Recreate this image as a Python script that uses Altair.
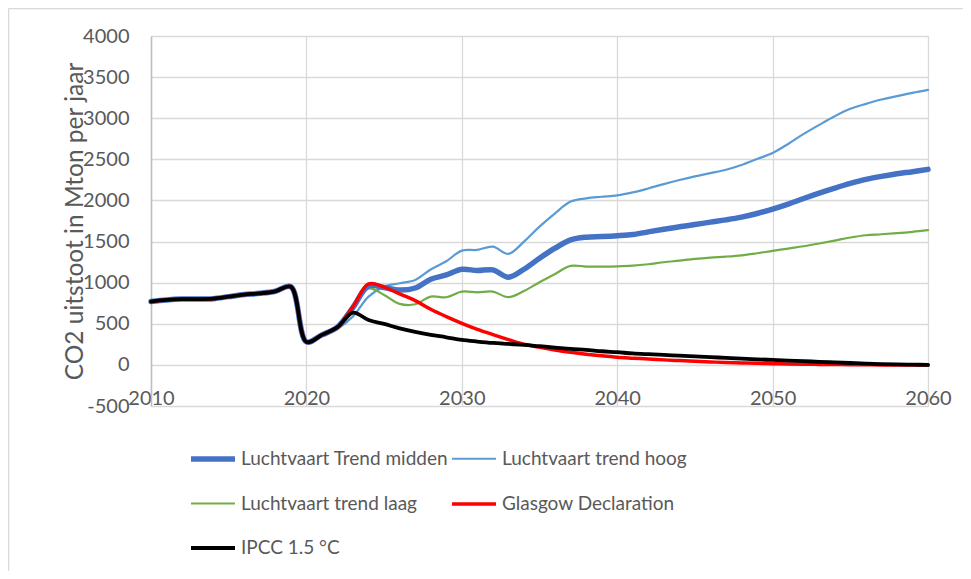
import altair as alt
import pandas as pd

# ---- data ----
history_years = list(range(2010, 2022))
history = [770, 790, 800, 800, 805, 830, 855, 870, 895, 950, 280, 365]

future_years = list(range(2022, 2061))
midden = [460, 700, 960, 940, 910, 935, 1042, 1094, 1163, 1147, 1155, 1066, 1163,
          1297, 1419, 1520, 1553, 1560, 1570, 1585, 1618, 1650, 1679, 1707, 1736,
          1764, 1797, 1841, 1894, 1955, 2024, 2089, 2150, 2207, 2256, 2293, 2325,
          2350, 2378]
hoog = [440, 590, 830, 952, 993, 1033, 1160, 1260, 1390, 1398, 1438, 1350, 1499,
        1682, 1844, 1986, 2026, 2045, 2062, 2098, 2146, 2199, 2248, 2293, 2333,
        2374, 2431, 2504, 2577, 2687, 2809, 2919, 3024, 3114, 3175, 3228, 3268,
        3309, 3345]
laag = [460, 700, 930, 851, 742, 737, 831, 823, 891, 883, 891, 823, 899, 1005,
        1106, 1204, 1196, 1196, 1199, 1207, 1224, 1248, 1268, 1289, 1305, 1317,
        1333, 1358, 1386, 1415, 1443, 1476, 1512, 1549, 1577, 1589, 1602, 1618,
        1638]
glasgow = [460, 710, 985, 945, 863, 782, 676, 587, 506, 433, 369, 308, 251, 215,
           182, 154, 130, 110, 93, 82, 72, 61, 52, 43, 36, 29, 24, 19, 15, 11, 8,
           6, 4, 2, 1, 0, 0, 0, 0]
ipcc = [460, 635, 545, 498, 445, 401, 365, 336, 304, 284, 267, 255, 243, 227,
        211, 194, 182, 166, 154, 140, 130, 121, 112, 103, 94, 86, 77, 68, 60, 52,
        45, 37, 30, 23, 16, 10, 6, 3, 0]

series_names = ["Luchtvaart Trend midden", "Luchtvaart trend hoog",
                "Luchtvaart trend laag", "Glasgow Declaration", "IPCC 1.5 °C"]
series_values = [midden, hoog, laag, glasgow, ipcc]
series_colors = ["#4472C4", "#5B9BD5", "#70AD47", "#FF0000", "#000000"]
series_widths = [5.5, 2.2, 2.2, 3.5, 3.8]
draw_order = ["Luchtvaart trend hoog", "Luchtvaart trend laag",
              "Luchtvaart Trend midden", "Glasgow Declaration", "IPCC 1.5 °C"]

x_ticks = [2010, 2020, 2030, 2040, 2050, 2060]
y_ticks = [-500, 0, 500, 1000, 1500, 2000, 2500, 3000, 3500, 4000]

rows = []
for name, vals in zip(series_names, series_values):
    for yr, v in zip(history_years, history):
        rows.append({"jaar": yr, "waarde": v, "reeks": name})
    for yr, v in zip(future_years, vals):
        rows.append({"jaar": yr, "waarde": v, "reeks": name})
df = pd.DataFrame(rows)

W, H = 777, 370
FONT = "Lato"
GREY_TXT = "#595959"

color = alt.Color("reeks:N", scale=alt.Scale(domain=series_names, range=series_colors),
                  legend=alt.Legend(title=None))
width_enc = alt.StrokeWidth("reeks:N",
                            scale=alt.Scale(type="ordinal", domain=series_names,
                                            range=series_widths),
                            legend=alt.Legend(title=None))

x_enc = alt.X("jaar:Q", scale=alt.Scale(domain=[2010, 2060], nice=False, zero=False),
              axis=alt.Axis(values=x_ticks, format="d", title=None, domain=False,
                            ticks=False, labelPadding=-2, labelBaseline="alphabetic",
                            labelFlush=False, labelOverlap=False,
                            gridColor="#D9D9D9", gridWidth=1.3))
y_enc = alt.Y("waarde:Q", scale=alt.Scale(domain=[-500, 4000], nice=False),
              axis=alt.Axis(values=y_ticks, labelExpr="'' + datum.value",
                            title="CO2 uitstoot in Mton per jaar",
                            ticks=False, labelPadding=22, domainColor="#BFBFBF",
                            domainWidth=1.5, gridColor="#D9D9D9", gridWidth=1.3,
                            titleAngle=-90, titleX=-76, titleY=H / 2,
                            titleAlign="center", titleBaseline="middle",
                            titleFontWeight="normal", titleFontSize=24.5,
                            titleColor=GREY_TXT))

layers = []
for name in draw_order:
    layers.append(
        alt.Chart(df).transform_filter(alt.datum.reeks == name)
        .mark_line(interpolate="catmull-rom", strokeCap="round", strokeJoin="round")
        .encode(x=x_enc, y=y_enc, color=color, strokeWidth=width_enc)
    )

frame_df = pd.DataFrame({"k": [0]})
frame_left = alt.Chart(frame_df).mark_rule(color="#D9D9D9", strokeWidth=1.5).encode(
    x=alt.value(-142.5), y=alt.value(-27.5), y2=alt.value(H + 200))
frame_top = alt.Chart(frame_df).mark_rule(color="#D9D9D9", strokeWidth=1.5).encode(
    x=alt.value(-142.5), x2=alt.value(W + 60), y=alt.value(-27.5))

chart = alt.layer(frame_left, frame_top, *layers).properties(
    width=W, height=H,
    autosize=alt.AutoSizeParams(type="none"),
    padding={"left": 143, "top": 28, "right": 35, "bottom": 165},
).configure_view(stroke=None).configure_axis(
    labelFont=FONT, labelFontSize=20, labelColor=GREY_TXT, titleFont=FONT
).configure_legend(
    orient="none", legendX=37, legendY=398, columns=2, direction="horizontal",
    columnPadding=-6, rowPadding=10, symbolType="stroke", symbolSize=1936,
    labelOffset=3, labelFont=FONT, labelFontSize=19, labelColor=GREY_TXT,
    labelLimit=400,
)

chart.save("out.html", embed_options={"renderer": "svg", "actions": False})
